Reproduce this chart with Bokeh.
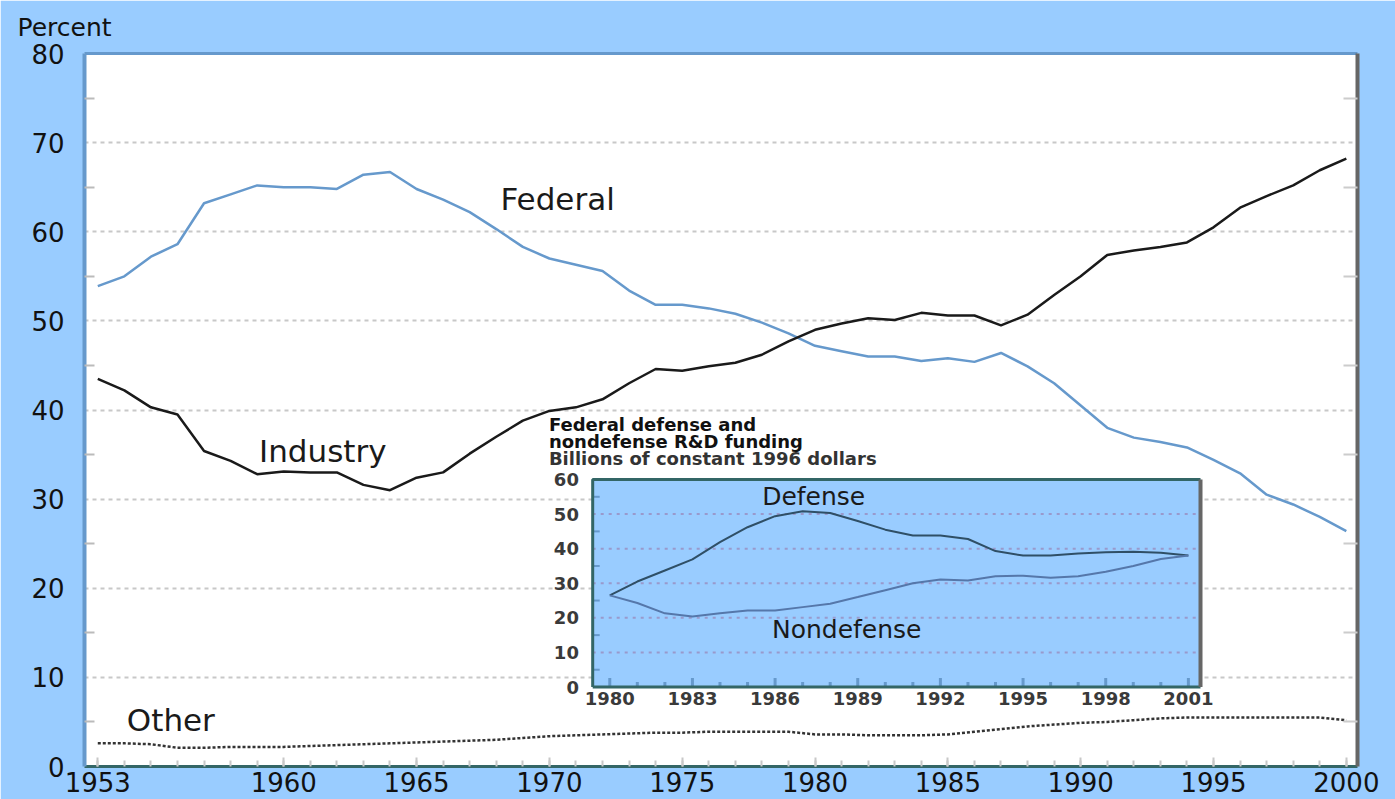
from math import pi
from bokeh.plotting import figure
from bokeh.models import Range1d, LinearAxis, FixedTicker, Label
from bokeh.core.properties import value
from bokeh.embed import file_html
from bokeh.resources import INLINE

# ---------------- data ----------------
years = list(range(1953, 2001))
federal = [53.9, 55.0, 57.2, 58.6, 63.2, 64.2, 65.2, 65.0, 65.0, 64.8,
           66.4, 66.7, 64.8, 63.6, 62.2, 60.3, 58.3, 57.0, 56.3, 55.6,
           53.4, 51.8, 51.8, 51.4, 50.8, 49.8, 48.6, 47.2, 46.6, 46.0,
           46.0, 45.5, 45.8, 45.4, 46.4, 44.9, 43.0, 40.5, 38.0, 36.9,
           36.4, 35.8, 34.4, 32.9, 30.5, 29.4, 28.0, 26.4]
industry = [43.5, 42.2, 40.3, 39.5, 35.4, 34.3, 32.8, 33.1, 33.0, 33.0,
            31.6, 31.0, 32.4, 33.0, 35.1, 37.0, 38.8, 39.9, 40.3, 41.2,
            43.0, 44.6, 44.4, 44.9, 45.3, 46.2, 47.7, 49.0, 49.7, 50.3,
            50.1, 50.9, 50.6, 50.6, 49.5, 50.7, 52.9, 55.0, 57.4, 57.9,
            58.3, 58.8, 60.5, 62.7, 64.0, 65.2, 66.9, 68.2]
other = [2.6, 2.6, 2.5, 2.1, 2.1, 2.2, 2.2, 2.2, 2.3, 2.4,
         2.5, 2.6, 2.7, 2.8, 2.9, 3.0, 3.2, 3.4, 3.5, 3.6,
         3.7, 3.8, 3.8, 3.9, 3.9, 3.9, 3.9, 3.6, 3.6, 3.5,
         3.5, 3.5, 3.6, 3.9, 4.2, 4.5, 4.7, 4.9, 5.0, 5.2,
         5.4, 5.5, 5.5, 5.5, 5.5, 5.5, 5.5, 5.2]

x_tick_years = [1953, 1960, 1965, 1970, 1975, 1980, 1985, 1990, 1995, 2000]
y_ticks = [0, 10, 20, 30, 40, 50, 60, 70, 80]
y_minor = [5, 15, 25, 35, 45, 55, 65, 75]

inset_years = list(range(1980, 2002))
defense = [26.5, 30.5, 33.7, 36.9, 41.9, 46.2, 49.4, 50.8, 50.3, 48.0, 45.5,
           43.8, 43.8, 42.8, 39.3, 38.0, 38.0, 38.6, 39.0, 39.1, 38.8, 38.0]
nondefense = [26.5, 24.3, 21.3, 20.4, 21.3, 22.1, 22.1, 23.1, 24.1, 26.0, 28.0,
              30.0, 31.1, 30.8, 32.0, 32.2, 31.6, 32.0, 33.3, 35.0, 37.0, 38.0]
inset_tick_years = [1980, 1983, 1986, 1989, 1992, 1995, 1998, 2001]
inset_tick_labels = ["1980", "1983", "1986", "1989", "1992", "1995", "1998", "2001"]
inset_y_ticks = [0, 10, 20, 30, 40, 50, 60]
inset_grid = [10, 20, 30, 40, 50]
inset_minor = [5, 15, 25, 35, 45, 55]
inset_title = ["Federal defense and", "nondefense R&D funding",
               "Billions of constant 1996 dollars"]

# ---------------- layout constants ----------------
FONT = "DejaVu Sans"
BG = "#99CCFF"
X0, X1 = 1952.5, 2000.42
Y0, Y1 = 0, 80
# inset box in main data units and its own domain
BX0, BX1 = 1971.63, 1994.51
BY0, BY1 = 8.92, 32.2
IX0, IX1 = 1979.38, 2001.44
IY0, IY1 = 0, 60

p = figure(width=1395, height=799, x_range=Range1d(X0, X1), y_range=Range1d(Y0, Y1),
           output_backend="svg", toolbar_location=None,
           min_border_left=84, min_border_right=38, min_border_top=53, min_border_bottom=33,
           background_fill_color="white", border_fill_color=BG, outline_line_color=None)

p.title.text = "Percent"
p.title.align = "left"
p.title.vertical_align = "top"
p.title.offset = -67
p.title.text_font = FONT
p.title.text_font_size = "25px"
p.title.text_font_style = "normal"
p.title.text_color = "#111111"
p.title.standoff = 20

# extra ranges for the inset (linear extension of inset domain over full frame)
sx = (IX1 - IX0) / (BX1 - BX0)
sy = (IY1 - IY0) / (BY1 - BY0)
p.extra_x_ranges = {"ix": Range1d(IX0 + (X0 - BX0) * sx, IX0 + (X1 - BX0) * sx)}
p.extra_y_ranges = {"iy": Range1d(IY0 + (Y0 - BY0) * sy, IY0 + (Y1 - BY0) * sy)}

# axes
xa = p.xaxis[0]
xa.ticker = FixedTicker(ticks=x_tick_years, minor_ticks=years)
xa.axis_line_color = "#336666"
xa.axis_line_width = 3
xa.major_tick_in = 9
xa.major_tick_out = 0
xa.minor_tick_in = 6
xa.minor_tick_out = 0
xa.major_tick_line_color = "#C8C8C8"
xa.minor_tick_line_color = "#C8C8C8"
xa.major_tick_line_width = 2
xa.minor_tick_line_width = 2
xa.major_label_text_font = FONT
xa.major_label_text_font_size = "26px"
xa.major_label_text_color = "#111111"
xa.major_label_standoff = 5

ya = p.yaxis[0]
ya.ticker = FixedTicker(ticks=y_ticks, minor_ticks=y_minor)
ya.axis_line_color = "#6699CC"
ya.axis_line_width = 4
ya.major_tick_in = 0
ya.major_tick_out = 0
ya.minor_tick_in = 10
ya.minor_tick_out = 0
ya.minor_tick_line_color = "#BBBBBB"
ya.minor_tick_line_width = 2
ya.major_label_text_font = FONT
ya.major_label_text_font_size = "26px"
ya.major_label_text_color = "#111111"
ya.major_label_standoff = 20

ra = LinearAxis(ticker=FixedTicker(ticks=[], minor_ticks=y_minor),
                axis_line_color="#666666", axis_line_width=4,
                major_tick_in=0, major_tick_out=0,
                minor_tick_in=14, minor_tick_out=0,
                minor_tick_line_color="#CCCCCC", minor_tick_line_width=2,
                major_label_text_font_size="0px")
p.add_layout(ra, "right")
ta = LinearAxis(ticker=FixedTicker(ticks=[], minor_ticks=[]),
                axis_line_color="#6699CC", axis_line_width=3,
                major_tick_in=0, major_tick_out=0, minor_tick_in=0, minor_tick_out=0,
                major_label_text_font_size="0px")
p.add_layout(ta, "above")

p.xgrid.grid_line_color = None
p.ygrid.ticker = FixedTicker(ticks=y_ticks)
p.ygrid.grid_line_color = "#C8C8C8"
p.ygrid.grid_line_dash = "4 4"
p.ygrid.grid_line_width = 2

# main series
p.line(years, federal, line_color="#6699CC", line_width=2.5)
p.line(years, industry, line_color="#1A1A1A", line_width=2.5)
p.line(years, other, line_color="#333333", line_width=2.5, line_dash="3 2")

for txt, x, y in [("Federal", 1970.31, 63.7), ("Industry", 1961.47, 35.45), ("Other", 1955.75, 5.27)]:
    p.add_layout(Label(x=x, y=y, text=txt, text_align="center", text_baseline="middle",
                       text_font=FONT, text_font_size="31px", text_color="#1A1A1A"))

# ---------------- inset ----------------
R = dict(x_range_name="ix", y_range_name="iy")
p.quad(left=[IX0], right=[IX1], bottom=[IY0], top=[IY1], fill_color=BG, line_color=None, **R)
p.segment(x0=[IX0] * len(inset_grid), x1=[IX1] * len(inset_grid), y0=inset_grid, y1=inset_grid,
          line_color="#9999CC", line_width=2, line_dash="3 5", **R)
p.ray(x=[IX0] * len(inset_minor), y=inset_minor, length=7, length_units="screen", angle=0,
      line_color="#6699CC", line_width=2, **R)
tick_len = [9 if yv in inset_tick_years else 5 for yv in inset_years]
p.ray(x=inset_years, y=[IY0] * len(inset_years), length=tick_len, length_units="screen",
      angle=pi / 2, line_color="#6699CC", line_width=3, **R)
p.multi_line(xs=[[IX0, IX0, IX1], [IX0, IX1]], ys=[[IY0, IY1, IY1], [IY0, IY0]],
             line_color="#336666", line_width=3, **R)
p.segment(x0=[IX1], y0=[IY0], x1=[IX1], y1=[IY1], line_color="#666666", line_width=4, **R)

p.line(inset_years, defense, line_color="#2F4F66", line_width=2, **R)
p.line(inset_years, nondefense, line_color="#5577AA", line_width=2, **R)

p.text(x=[1978.88] * len(inset_y_ticks), y=inset_y_ticks, text=[str(v) for v in inset_y_ticks],
       text_align="right", text_baseline="middle", text_font=value(FONT),
       text_font_size="18px", text_font_style="bold", text_color="#3A3A3A", **R)
p.text(x=inset_tick_years, y=[-3.3] * len(inset_tick_years), text=inset_tick_labels,
       text_align="center", text_baseline="middle", text_font=value(FONT),
       text_font_size="18px", text_font_style="bold", text_color="#3A3A3A", **R)
p.text(x=[1977.79] * 3, y=[75.9, 71.0, 66.1], text=inset_title,
       text_align="left", text_baseline="middle", text_font=value(FONT),
       text_font_size="18px", text_font_style="bold",
       text_color=["#111111", "#111111", "#333333"], **R)
p.text(x=[1987.4, 1988.6], y=[55.1, 16.6], text=["Defense", "Nondefense"],
       text_align="center", text_baseline="middle", text_font=value(FONT),
       text_font_size="25px", text_color="#1A1A1A", **R)

open("out.html", "w").write(file_html(p, INLINE))
